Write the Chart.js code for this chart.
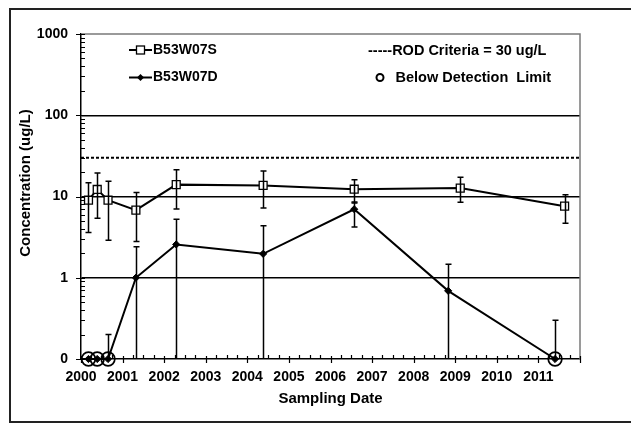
<!DOCTYPE html>
<html><head><meta charset="utf-8">
<script src="https://cdn.jsdelivr.net/npm/chart.js@4"></script>
<style>html,body{margin:0;padding:0;background:#fff}#wrap{width:631px;height:424px;position:relative}</style>
</head><body><div id="wrap"><canvas id="c" width="631" height="424"></canvas></div>
<script>
// ---- data ----
const sDates    = [2000.18, 2000.39, 2000.65, 2001.32, 2002.29, 2004.38, 2006.57, 2009.12, 2011.63];
const sValues   = [9.0, 12.2, 9.0, 6.8, 14.0, 13.7, 12.3, 12.7, 7.6];
const sErrLow   = [3.6, 5.4, 2.9, 2.8, 7.0, 7.2, 8.3, 8.5, 4.7];
const sErrHigh  = [14.8, 19.4, 15.4, 11.2, 21.4, 20.6, 16.1, 17.3, 10.5];

const dDates    = [2000.18, 2000.39, 2000.65, 2001.32, 2002.29, 2004.38, 2006.57, 2008.83, 2011.40];
const dValues   = [0.1, 0.1, 0.1, 1.0, 2.57, 1.97, 6.97, 0.69, 0.1];
const dErrLow   = [0.1, 0.1, 0.1, 0.1, 0.1, 0.1, 4.2, 0.1, 0.1];
const dErrHigh  = [0.1, 0.1, 0.2, 2.4, 5.25, 4.35, 8.56, 1.47, 0.30];

const bdlDates  = [2000.18, 2000.39, 2000.65, 2011.40];
const bdlValues = [0.1, 0.1, 0.1, 0.1];

const rodDates  = [2000, 2012];
const rodValues = [30, 30];

const yTickValues = [0.1, 1, 10, 100, 1000];
const yTickLabels = ['0', '1', '10', '100', '1000'];
const xTickYears  = [2000, 2001, 2002, 2003, 2004, 2005, 2006, 2007, 2008, 2009, 2010, 2011];
const xMin = 2000, xMax = 2012;

const seriesNames = ['B53W07S', 'B53W07D', 'ROD Criteria = 30 ug/L', 'Below Detection  Limit'];
const yTitle = 'Concentration (ug/L)';
const xTitle = 'Sampling Date';

// ---- chart ----
const FONT = "'Liberation Sans', Arial, Helvetica, sans-serif";
Chart.defaults.font.family = FONT;
Chart.defaults.font.weight = 'bold';
Chart.defaults.font.size = 14;
Chart.defaults.color = '#000';

const pts = (xs, ys) => xs.map((x, i) => ({x, y: ys[i]}));

const decor = {
  id: 'decor',
  beforeDraw(chart) {
    const c = chart.ctx;
    c.save();
    c.fillStyle = '#fff';
    c.fillRect(0, 0, chart.width, chart.height);
    c.strokeStyle = '#222';
    c.lineWidth = 2;
    c.strokeRect(10, 9, 700, 413);
    c.restore();
  },
  beforeDatasetsDraw(chart) {
    const c = chart.ctx, a = chart.chartArea;
    c.save();
    c.strokeStyle = '#7a7a7a';
    c.lineWidth = 1.5;
    c.beginPath();
    c.moveTo(a.left, a.top); c.lineTo(a.right, a.top); c.lineTo(a.right, a.bottom);
    c.stroke();
    // tick marks
    const xs = chart.scales.x, ys = chart.scales.y;
    c.strokeStyle = '#000';
    c.lineWidth = 1.2;
    c.beginPath();
    yTickValues.forEach(v => { const y = Math.round(ys.getPixelForValue(v)) + 0.5; c.moveTo(a.left - 5, y); c.lineTo(a.left + 4, y); });
    for (let d = 0; d < yTickValues.length - 1; d++) {
      for (let k = 2; k <= 9; k++) {
        const y = Math.round(ys.getPixelForValue(yTickValues[d] * k)) + 0.5;
        c.moveTo(a.left, y); c.lineTo(a.left + 4, y);
      }
    }
    for (let yr = xMin; yr <= xMax; yr++) {
      const x = Math.round(xs.getPixelForValue(yr)) + 0.5;
      c.moveTo(x, a.bottom - 3); c.lineTo(x, a.bottom + 4);
      if (yr < xMax) for (let q = 1; q < 4; q++) {
        const xq = Math.round(xs.getPixelForValue(yr + q / 4)) + 0.5;
        c.moveTo(xq, a.bottom - 4); c.lineTo(xq, a.bottom);
      }
    }
    c.stroke();
    // y axis title
    c.fillStyle = '#000';
    c.font = 'bold 15px ' + FONT;
    c.textAlign = 'center';
    c.textBaseline = 'middle';
    c.translate(26, 183);
    c.rotate(-Math.PI / 2);
    c.fillText(yTitle, 0, 0);
    c.restore();
  },
  afterDatasetsDraw(chart) {
    const c = chart.ctx, xs = chart.scales.x, ys = chart.scales.y;
    c.save();
    c.strokeStyle = '#000';
    c.lineWidth = 1.5;
    const bars = (dates, lo, hi, vals) => {
      dates.forEach((d, i) => {
        if (hi[i] <= vals[i] && lo[i] >= vals[i]) return;
        const x = Math.round(xs.getPixelForValue(d)) + 0.5;
        const yl = ys.getPixelForValue(Math.max(lo[i], 0.1));
        const yh = ys.getPixelForValue(hi[i]);
        c.beginPath();
        c.moveTo(x, yl); c.lineTo(x, yh);
        c.moveTo(x - 3, yh); c.lineTo(x + 3, yh);
        if (lo[i] > 0.1) { c.moveTo(x - 3, yl); c.lineTo(x + 3, yl); }
        c.stroke();
      });
    };
    bars(sDates, sErrLow, sErrHigh, sValues);
    bars(dDates, dErrLow, dErrHigh, dValues);
    c.restore();
  },
  afterDraw(chart) {
    const c = chart.ctx;
    c.save();
    c.font = 'bold 14px ' + FONT;
    c.fillStyle = '#000';
    c.strokeStyle = '#000';
    c.textBaseline = 'middle';
    c.textAlign = 'left';
    // entry 1
    c.lineWidth = 2;
    c.beginPath(); c.moveTo(129, 50); c.lineTo(152, 50); c.stroke();
    c.fillStyle = '#fff'; c.lineWidth = 1.3;
    c.fillRect(136.5, 46, 8, 8); c.strokeRect(136.5, 46, 8, 8);
    c.fillStyle = '#000';
    c.fillText(seriesNames[0], 153, 50);
    // entry 2
    c.lineWidth = 2;
    c.beginPath(); c.moveTo(129, 77.5); c.lineTo(152, 77.5); c.stroke();
    c.beginPath(); c.moveTo(140.5, 74); c.lineTo(144, 77.5); c.lineTo(140.5, 81); c.lineTo(137, 77.5); c.closePath(); c.fill();
    c.fillText(seriesNames[1], 153, 77.5);
    // entry 3
    c.font = 'bold 14.5px ' + FONT;
    c.fillText('-----' + seriesNames[2], 368, 51);
    // entry 4
    c.lineWidth = 2;
    c.beginPath(); c.arc(380, 77.5, 3.5, 0, Math.PI * 2); c.stroke();
    c.fillText(seriesNames[3], 395.5, 77.5);
    c.restore();
  }
};

new Chart(document.getElementById('c'), {
  type: 'scatter',
  data: { datasets: [
    { label: seriesNames[0], data: pts(sDates, sValues), showLine: true, borderColor: '#000', borderWidth: 2,
      pointStyle: 'rect', pointRadius: 5.6, pointBackgroundColor: '#fff', pointBorderColor: '#000', pointBorderWidth: 1.3, clip: false, order: 1 },
    { label: seriesNames[1], data: pts(dDates, dValues), showLine: true, borderColor: '#000', borderWidth: 2,
      pointStyle: 'rectRot', pointRadius: 3.6, pointBackgroundColor: '#000', pointBorderColor: '#000', pointBorderWidth: 1, clip: false, order: 2 },
    { label: seriesNames[2], data: pts(rodDates, rodValues), showLine: true, borderColor: '#000', borderWidth: 2,
      borderDash: [3, 2], pointRadius: 0, order: 3 },
    { label: seriesNames[3], data: pts(bdlDates, bdlValues), showLine: false, pointStyle: 'circle', pointRadius: 6.8,
      pointBackgroundColor: 'rgba(0,0,0,0)', pointBorderColor: '#000', pointBorderWidth: 1.7, clip: false, order: 0 }
  ]},
  options: {
    responsive: false, animation: false, events: [],
    layout: { padding: { left: 0, top: 34, right: 51, bottom: 0 } },
    plugins: { legend: { display: false }, tooltip: { enabled: false } },
    scales: {
      x: {
        type: 'linear', min: xMin, max: xMax,
        afterFit: s => { s.height = 65; },
        afterBuildTicks: s => { s.ticks = xTickYears.concat([xMax]).map(v => ({ value: v })); },
        ticks: { callback: v => xTickYears.includes(v) ? String(v) : '', padding: 10, maxRotation: 0, autoSkip: false },
        grid: { drawOnChartArea: false, drawTicks: false },
        border: { color: '#000', width: 1.5 },
        title: { display: true, text: xTitle, padding: { top: 0, bottom: 16 }, font: { size: 15, weight: 'bold' } }
      },
      y: {
        type: 'logarithmic', min: 0.1, max: 1000,
        afterFit: s => { s.width = 81; },
        afterBuildTicks: s => { s.ticks = yTickValues.map(v => ({ value: v })); },
        ticks: { callback: v => { const i = yTickValues.findIndex(t => Math.abs(t - v) < 1e-9 * Math.max(1, t)); return i >= 0 ? yTickLabels[i] : ''; }, padding: 13, autoSkip: false },
        grid: { drawTicks: false, lineWidth: 1.5,
          color: ctx => (ctx.tick && [1, 10, 100].includes(ctx.tick.value)) ? '#000' : 'rgba(0,0,0,0)' },
        border: { color: '#000', width: 1.5 },
        title: { display: false }
      }
    }
  },
  plugins: [decor]
});
</script></body></html>
